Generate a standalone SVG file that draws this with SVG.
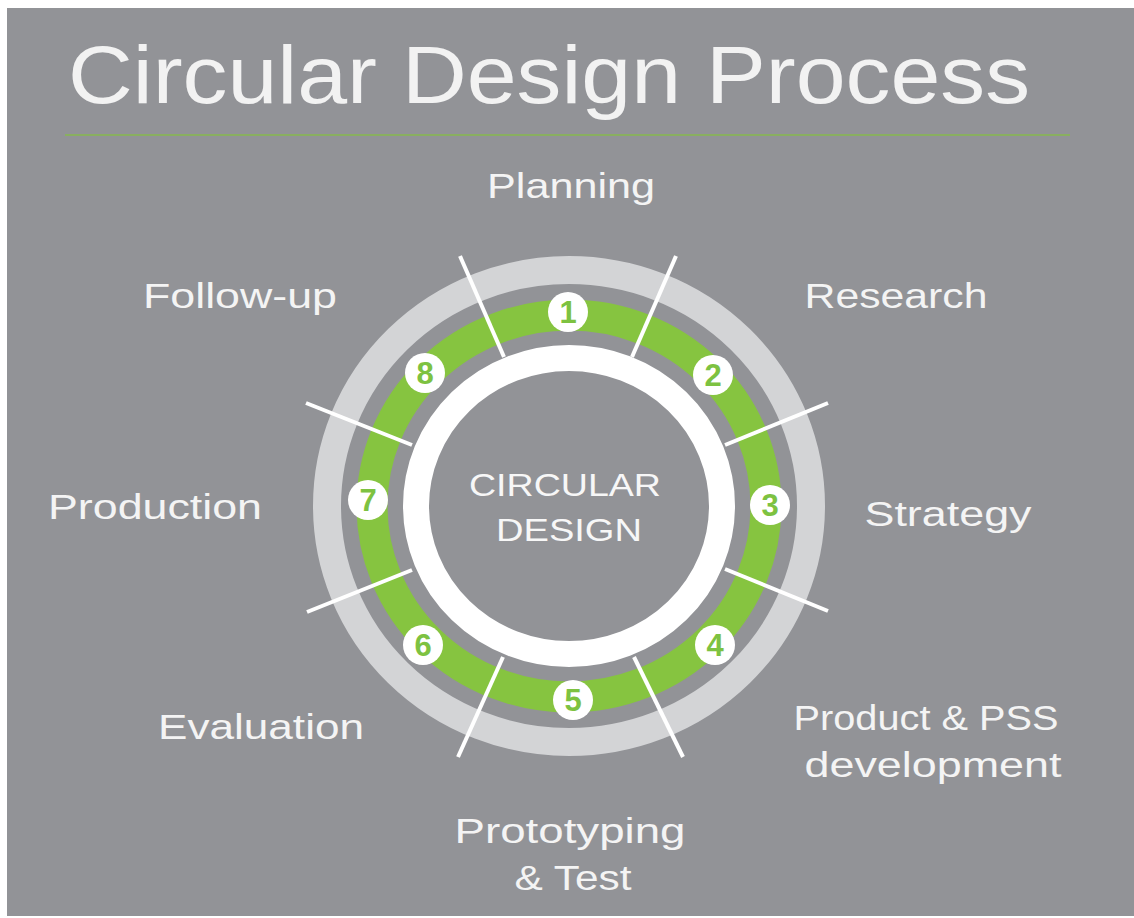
<svg xmlns="http://www.w3.org/2000/svg" width="1134" height="918" viewBox="0 0 1134 918">
<defs>
<style>
.lbl{font-family:"Liberation Sans","DejaVu Sans",sans-serif;font-size:35px;fill:#f4f4f4;text-anchor:middle}
.num{font-family:"Liberation Sans","DejaVu Sans",sans-serif;font-size:31px;font-weight:bold;fill:#7dc241;text-anchor:middle}
.badge{fill:#ffffff}
.sep{stroke:#ffffff;stroke-width:4;stroke-linecap:butt}
.ctr{font-family:"Liberation Sans","DejaVu Sans",sans-serif;font-size:31px;fill:#f7f7f7;text-anchor:middle}
</style>
</defs>
<rect x="0" y="0" width="1134" height="918" fill="#ffffff"/>
<rect x="7" y="8" width="1127" height="908" fill="#929397"/>
<g id="title">
<text x="549" y="103" font-family="Liberation Sans, DejaVu Sans, sans-serif" font-size="81" fill="#f2f2f2" text-anchor="middle" textLength="962" lengthAdjust="spacingAndGlyphs">Circular Design Process</text>
<line x1="65" y1="135" x2="1070" y2="135" stroke="#86b84e" stroke-width="1.5"/>
</g>
<g id="rings">
<ellipse cx="569" cy="506" rx="242" ry="236" fill="none" stroke="#d3d4d6" stroke-width="28"/>
<ellipse cx="569" cy="506" rx="197" ry="191" fill="none" stroke="#86c440" stroke-width="31"/>
<ellipse cx="569" cy="506" rx="153" ry="148" fill="none" stroke="#ffffff" stroke-width="26"/>
</g>
<g id="connectors">
<line class="sep" x1="460" y1="256" x2="504" y2="357"/>
<line class="sep" x1="676" y1="256" x2="632" y2="357"/>
<line class="sep" x1="828" y1="403" x2="725" y2="445"/>
<line class="sep" x1="828" y1="611" x2="725" y2="569"/>
<line class="sep" x1="683" y1="757" x2="634" y2="657"/>
<line class="sep" x1="458" y1="757" x2="503" y2="657"/>
<line class="sep" x1="307" y1="612" x2="412" y2="570"/>
<line class="sep" x1="306" y1="403" x2="412" y2="445"/>
</g>
<g id="center">
<text class="ctr" x="565" y="496" textLength="192" lengthAdjust="spacingAndGlyphs">CIRCULAR</text>
<text class="ctr" x="569" y="541" textLength="146" lengthAdjust="spacingAndGlyphs">DESIGN</text>
</g>
<g id="step1"><circle class="badge" cx="568" cy="312" r="20"/><text class="num" x="568" y="323">1</text><text class="lbl" x="571" y="198" textLength="168" lengthAdjust="spacingAndGlyphs">Planning</text></g>
<g id="step2"><circle class="badge" cx="713" cy="375" r="20"/><text class="num" x="713" y="386">2</text><text class="lbl" x="896" y="308" textLength="183" lengthAdjust="spacingAndGlyphs">Research</text></g>
<g id="step3"><circle class="badge" cx="770" cy="505" r="20"/><text class="num" x="770" y="516">3</text><text class="lbl" x="948" y="526" textLength="167" lengthAdjust="spacingAndGlyphs">Strategy</text></g>
<g id="step4"><circle class="badge" cx="715" cy="645" r="20"/><text class="num" x="715" y="656">4</text><text class="lbl" x="926" y="730" textLength="265" lengthAdjust="spacingAndGlyphs">Product &amp; PSS</text><text class="lbl" x="933" y="777" textLength="257" lengthAdjust="spacingAndGlyphs">development</text></g>
<g id="step5"><circle class="badge" cx="573" cy="700" r="20"/><text class="num" x="573" y="711">5</text><text class="lbl" x="570" y="843" textLength="231" lengthAdjust="spacingAndGlyphs">Prototyping</text><text class="lbl" x="573" y="890" textLength="117" lengthAdjust="spacingAndGlyphs">&amp; Test</text></g>
<g id="step6"><circle class="badge" cx="423" cy="645" r="20"/><text class="num" x="423" y="656">6</text><text class="lbl" x="261" y="739" textLength="206" lengthAdjust="spacingAndGlyphs">Evaluation</text></g>
<g id="step7"><circle class="badge" cx="368" cy="500" r="20"/><text class="num" x="368" y="511">7</text><text class="lbl" x="155" y="519" textLength="214" lengthAdjust="spacingAndGlyphs">Production</text></g>
<g id="step8"><circle class="badge" cx="425" cy="373" r="20"/><text class="num" x="425" y="384">8</text><text class="lbl" x="240" y="308" textLength="194" lengthAdjust="spacingAndGlyphs">Follow-up</text></g>
</svg>
